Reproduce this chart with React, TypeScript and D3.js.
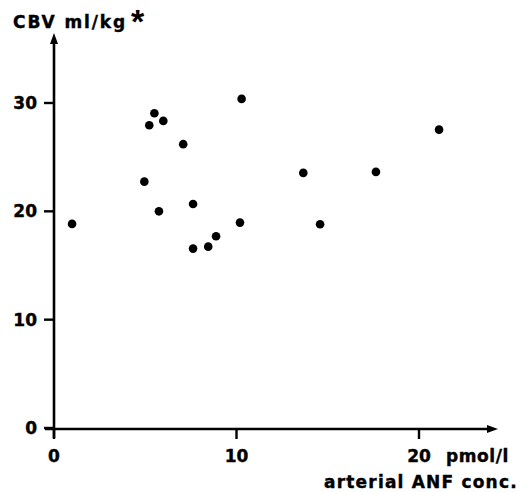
import React, { useEffect, useRef } from "react";
import * as d3 from "d3";

// arterial ANF conc. (pmol/l) vs CBV (ml/kg)
const anf = [10.28, 5.5, 5.99, 5.22, 7.08, 4.95, 13.66, 7.62, 5.75, 0.99, 10.19, 14.58, 8.88, 8.45, 7.62, 21.1, 17.64];
const cbv = [30.38, 29.06, 28.35, 27.95, 26.2, 22.74, 23.55, 20.68, 20.0, 18.84, 18.96, 18.81, 17.7, 16.74, 16.56, 27.54, 23.64];
const xTicks = [0, 10, 20];
const yTicks = [0, 10, 20, 30];

const App = () => {
  const svgRef = useRef<SVGSVGElement | null>(null);

  useEffect(() => {
    if (!svgRef.current) return;
    const svg = d3.select(svgRef.current);
    svg.selectAll("*").remove();

    const width = 527;
    const height = 492;
    svg.attr("width", width).attr("height", height);

    const x = d3.scaleLinear().domain([0, 20]).range([54, 419]);
    const y = d3.scaleLinear().domain([0, 30]).range([428, 103]);

    const font = "'DejaVu Sans', Verdana, sans-serif";
    const ink = "#000";
    const y0 = y(0) + 1;
    const x0 = x(0);

    // axes
    svg.append("line")
      .attr("x1", x0).attr("x2", x0)
      .attr("y1", 40).attr("y2", 438)
      .attr("stroke", ink).attr("stroke-width", 2.6);
    svg.append("line")
      .attr("x1", 45).attr("x2", 490)
      .attr("y1", y0).attr("y2", y0)
      .attr("stroke", ink).attr("stroke-width", 2.6);

    // arrow heads
    svg.append("path")
      .attr("d", `M${x0},33 L${x0 - 4},44 L${x0 + 4},44 Z`)
      .attr("fill", ink);
    svg.append("path")
      .attr("d", `M498,${y0} L487,${y0 - 4} L487,${y0 + 4} Z`)
      .attr("fill", ink);

    // y ticks
    svg.selectAll(".ytick")
      .data(yTicks)
      .enter()
      .append("line")
      .attr("x1", x0 - 10).attr("x2", x0)
      .attr("y1", d => y(d)).attr("y2", d => y(d))
      .attr("stroke", ink).attr("stroke-width", 2.4);
    svg.selectAll(".ylab")
      .data(yTicks)
      .enter()
      .append("text")
      .attr("x", 37)
      .attr("y", d => y(d) + 6)
      .attr("text-anchor", "end")
      .attr("font-family", font)
      .attr("font-weight", "bold")
      .attr("font-size", 17)
      .attr("stroke", ink).attr("stroke-width", 0.4)
      .text(d => d);

    // x ticks
    svg.selectAll(".xtick")
      .data(xTicks)
      .enter()
      .append("line")
      .attr("x1", d => x(d)).attr("x2", d => x(d))
      .attr("y1", y0).attr("y2", y0 + 10)
      .attr("stroke", ink).attr("stroke-width", 2.4);
    svg.selectAll(".xlab")
      .data(xTicks)
      .enter()
      .append("text")
      .attr("x", d => x(d))
      .attr("y", 462)
      .attr("text-anchor", "middle")
      .attr("font-family", font)
      .attr("font-weight", "bold")
      .attr("font-size", 17)
      .attr("stroke", ink).attr("stroke-width", 0.4)
      .text(d => d);

    const label = (t: string, lx: number, ly: number, ls: number) =>
      svg.append("text")
        .attr("x", lx).attr("y", ly)
        .attr("font-family", font)
        .attr("font-weight", "bold")
        .attr("font-size", 17)
        .attr("letter-spacing", ls)
        .attr("stroke", ink).attr("stroke-width", 0.4)
        .text(t);

    label("pmol/l", 446, 462, 0.6);
    label("arterial ANF conc.", 324, 488, 1.2);
    label("CBV  ml/kg", 13, 28, 1.9);

    svg.append("text")
      .attr("x", 131).attr("y", 33)
      .attr("font-family", "'Liberation Sans', Arial, sans-serif")
      .attr("font-weight", "bold")
      .attr("font-size", 34)
      .text("*");

    // points
    svg.selectAll(".dot")
      .data(anf.map((v, i) => [v, cbv[i]]))
      .enter()
      .append("circle")
      .attr("cx", d => x(d[0]))
      .attr("cy", d => y(d[1]))
      .attr("r", 4.3)
      .attr("fill", ink);
  }, []);

  return <svg ref={svgRef} style={{ position: "absolute", left: 0, top: 0 }}></svg>;
};

export default App;
